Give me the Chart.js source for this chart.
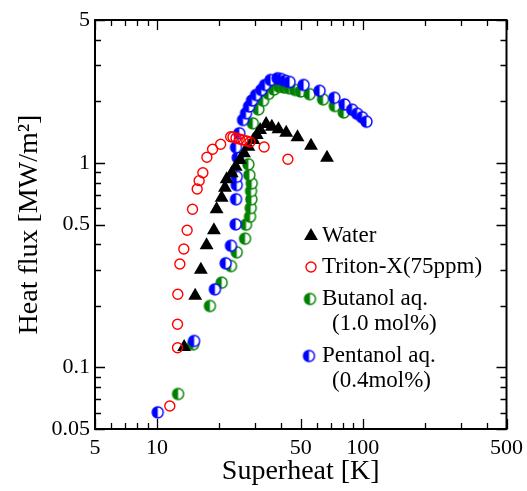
<!DOCTYPE html>
<html>
<head>
<meta charset="utf-8">
<script src="https://cdn.jsdelivr.net/npm/chart.js@4.4.0/dist/chart.umd.min.js"></script>
<style>
  body { margin: 0; background: #fff; }
  canvas { display: block; }
</style>
</head>
<body>
<canvas id="boilingChart" width="527" height="491"></canvas>
<script>
// superheat [K] vs heat flux [MW/m2]
var waterX = [13.56, 15.34, 16.35, 17.43, 18.92, 19.5, 20.63, 21.41, 21.82, 23.09, 24.14, 25.33, 26.5, 27.82, 29.42, 30.57, 31.73, 33.94, 36.17, 38.97, 42.49, 48.21, 56.08, 67.07];
var waterY = [0.126, 0.224, 0.30, 0.396, 0.468, 0.593, 0.676, 0.757, 0.832, 0.89, 0.959, 1.034, 1.115, 1.20, 1.295, 1.37, 1.449, 1.55, 1.504, 1.46, 1.406, 1.335, 1.214, 1.061];

var tritonX = [11.55, 12.59, 12.59, 12.63, 12.92, 13.51, 14.02, 14.89, 15.69, 16.04, 16.72, 17.49, 18.64, 20.4, 22.83, 23.42, 24.23, 25.14, 26.2, 27.32, 28.34, 33.18, 43.3];
var tritonY = [0.0648, 0.1249, 0.1626, 0.228, 0.3205, 0.3795, 0.4684, 0.5933, 0.746, 0.819, 0.896, 1.066, 1.166, 1.234, 1.344, 1.34, 1.324, 1.31, 1.295, 1.28, 1.266, 1.197, 1.042];

var butanolX = [12.67, 15.0, 18.09, 20.63, 22.9, 24.42, 26.8, 27.1, 28.34, 28.57, 28.76, 28.66, 28.89, 28.12, 27.82, 29.22, 31.11, 32.81, 34.89, 37.03, 39.27, 41.5, 43.93, 46.95, 49.96, 55.21, 64.15, 73.19, 80.87];
var butanolY = [0.0742, 0.1298, 0.1998, 0.2597, 0.3133, 0.3657, 0.4263, 0.499, 0.546, 0.602, 0.664, 0.729, 0.795, 0.873, 0.985, 1.562, 1.829, 2.016, 2.178, 2.286, 2.359, 2.339, 2.317, 2.274, 2.236, 2.169, 2.047, 1.899, 1.765];

var pentanolX = [10.09, 15.16, 19.13, 21.58, 22.9, 24.14, 24.23, 24.42, 24.42, 24.69, 24.23, 25.14, 26.2, 27.1, 28.03, 28.99, 30.33, 32.17, 33.53, 35.67, 38.59, 40.14, 41.99, 44.13, 51.61, 61.72, 72.8, 81.75, 88.84, 93.99, 99.34, 104.3];
var pentanolY = [0.0603, 0.1347, 0.241, 0.3231, 0.3938, 0.501, 0.664, 0.78, 0.856, 1.061, 1.192, 1.396, 1.622, 1.749, 1.888, 2.02, 2.149, 2.274, 2.406, 2.545, 2.594, 2.573, 2.524, 2.488, 2.406, 2.254, 2.083, 1.931, 1.822, 1.741, 1.672, 1.591];

// axis ticks: every decade step gets a mark, only these get a label
var xTicks = [5, 6, 7, 8, 9, 10, 20, 30, 40, 50, 60, 70, 80, 90, 100, 200, 300, 400, 500];
var xLabels = [5, 10, 50, 100, 500];
var yTicks = [0.05, 0.06, 0.07, 0.08, 0.09, 0.1, 0.2, 0.3, 0.4, 0.5, 0.6, 0.7, 0.8, 0.9, 1, 2, 3, 4, 5];
var yLabels = [0.05, 0.1, 0.5, 1, 5];

var serif = "'Liberation Serif', 'Times New Roman', serif";

function pairs(xs, ys) {
    return xs.map(function (x, i) { return {x: x, y: ys[i]}; });
}

// circle with the left half filled
function halfDot(color, r) {
    var c = document.createElement('canvas');
    var s = Math.ceil(r * 2 + 4);
    c.width = s; c.height = s;
    var g = c.getContext('2d');
    var m = s / 2;
    g.beginPath(); g.arc(m, m, r, 0, 2 * Math.PI); g.fillStyle = '#fff'; g.fill();
    g.beginPath(); g.arc(m, m, r, Math.PI / 2, 3 * Math.PI / 2); g.closePath();
    g.fillStyle = color; g.fill();
    g.beginPath(); g.arc(m, m, r, 0, 2 * Math.PI);
    g.lineWidth = 1.4; g.strokeStyle = color; g.stroke();
    return c;
}

var greenDot = halfDot('#008000', 5.5);
var blueDot = halfDot('#0000ff', 5.5);

// frame with inward ticks on all four sides
var framePlugin = {
    id: 'frame',
    afterDatasetsDraw: function (chart) {
        var ctx = chart.ctx, a = chart.chartArea;
        var xs = chart.scales.x, ys = chart.scales.y;
        ctx.save();
        ctx.strokeStyle = '#000';
        ctx.lineWidth = 1.3;
        ctx.beginPath();
        xTicks.forEach(function (v) {
            var px = Math.round(xs.getPixelForValue(v)) + 0.5;
            var len = xLabels.indexOf(v) >= 0 ? 10 : 6;
            ctx.moveTo(px, a.bottom); ctx.lineTo(px, a.bottom - len);
            ctx.moveTo(px, a.top); ctx.lineTo(px, a.top + len);
        });
        yTicks.forEach(function (v) {
            var py = Math.round(ys.getPixelForValue(v)) + 0.5;
            var len = yLabels.indexOf(v) >= 0 ? 10 : 6;
            ctx.moveTo(a.left, py); ctx.lineTo(a.left + len, py);
            ctx.moveTo(a.right, py); ctx.lineTo(a.right - len, py);
        });
        ctx.stroke();
        ctx.lineWidth = 2;
        ctx.strokeRect(a.left, a.top, a.right - a.left, a.bottom - a.top);
        ctx.restore();
    }
};

// legend box inside the plot area
var legendPlugin = {
    id: 'innerLegend',
    afterDatasetsDraw: function (chart) {
        var ctx = chart.ctx;
        var rows = [
            {ds: 1, mx: 311, y: 236, text: ['Water']},
            {ds: 0, mx: 311, y: 267, text: ['Triton-X(75ppm)']},
            {ds: 3, mx: 310, y: 299, text: ['Butanol aq.', '(1.0 mol%)']},
            {ds: 2, mx: 309, y: 356, text: ['Pentanol aq.', '(0.4mol%)']}
        ];
        ctx.save();
        rows.forEach(function (r) {
            var d = chart.data.datasets[r.ds];
            ctx.fillStyle = d.backgroundColor;
            ctx.strokeStyle = d.borderColor;
            ctx.lineWidth = d.borderWidth;
            Chart.helpers.drawPoint(ctx, {
                pointStyle: d.pointStyle,
                radius: d.pointStyle === 'triangle' ? 8 : 5,
                borderWidth: d.borderWidth,
                rotation: 0
            }, r.mx, r.y);
            ctx.fillStyle = '#000';
            ctx.font = '23px ' + serif;
            ctx.textBaseline = 'middle';
            ctx.textAlign = 'left';
            ctx.fillText(r.text[0], 322, r.y);
            if (r.text[1]) ctx.fillText(r.text[1], 332, r.y + 25);
        });
        ctx.restore();
    }
};

var ctx = document.getElementById('boilingChart').getContext('2d');
var boilingChart = new Chart(ctx, {
    type: 'scatter',
    data: {
        datasets: [{
            label: 'Triton-X(75ppm)',
            data: pairs(tritonX, tritonY),
            pointStyle: 'circle',
            pointRadius: 5,
            backgroundColor: 'rgba(255,255,255,0)',
            borderColor: '#ff0000',
            borderWidth: 1.4,
            order: 1
        }, {
            label: 'Water',
            data: pairs(waterX, waterY),
            pointStyle: 'triangle',
            pointRadius: 8,
            backgroundColor: '#000',
            borderColor: '#000',
            borderWidth: 0,
            order: 2
        }, {
            label: 'Pentanol aq. (0.4mol%)',
            data: pairs(pentanolX, pentanolY),
            pointStyle: blueDot,
            pointRadius: 5,
            backgroundColor: '#0000ff',
            borderColor: '#0000ff',
            borderWidth: 1.4,
            order: 3
        }, {
            label: 'Butanol aq. (1.0 mol%)',
            data: pairs(butanolX, butanolY),
            pointStyle: greenDot,
            pointRadius: 5,
            backgroundColor: '#008000',
            borderColor: '#008000',
            borderWidth: 1.4,
            order: 4
        }]
    },
    options: {
        responsive: false,
        animation: false,
        layout: {
            padding: {left: 0, right: 20.5, top: 20, bottom: 0}
        },
        plugins: {
            legend: {display: false},
            tooltip: {enabled: false}
        },
        scales: {
            x: {
                type: 'logarithmic',
                position: 'bottom',
                min: 5,
                max: 500,
                grid: {display: false},
                border: {display: false},
                afterBuildTicks: function (scale) {
                    scale.ticks = xTicks.map(function (v) { return {value: v}; });
                },
                afterFit: function (scale) { scale.height = 62; },
                ticks: {
                    autoSkip: false,
                    maxRotation: 0,
                    padding: -2,
                    color: '#000',
                    font: {family: serif, size: 22},
                    callback: function (v) { return xLabels.indexOf(v) >= 0 ? String(v) : ''; }
                },
                title: {
                    display: true,
                    text: 'Superheat [K]',
                    color: '#000',
                    font: {family: serif, size: 28, lineHeight: 1},
                    padding: {top: 0, bottom: 5}
                }
            },
            y: {
                type: 'logarithmic',
                min: 0.05,
                max: 5,
                grid: {display: false},
                border: {display: false},
                afterBuildTicks: function (scale) {
                    scale.ticks = yTicks.map(function (v) { return {value: v}; });
                },
                afterFit: function (scale) { scale.width = 95; },
                ticks: {
                    autoSkip: false,
                    padding: -3,
                    color: '#000',
                    font: {family: serif, size: 22},
                    callback: function (v) { return yLabels.indexOf(v) >= 0 ? String(v) : ''; }
                },
                title: {
                    display: true,
                    text: 'Heat flux [MW/m²]',
                    color: '#000',
                    font: {family: serif, size: 28, lineHeight: 1},
                    padding: {top: 16, bottom: 0}
                }
            }
        }
    },
    plugins: [framePlugin, legendPlugin]
});
</script>
</body>
</html>
